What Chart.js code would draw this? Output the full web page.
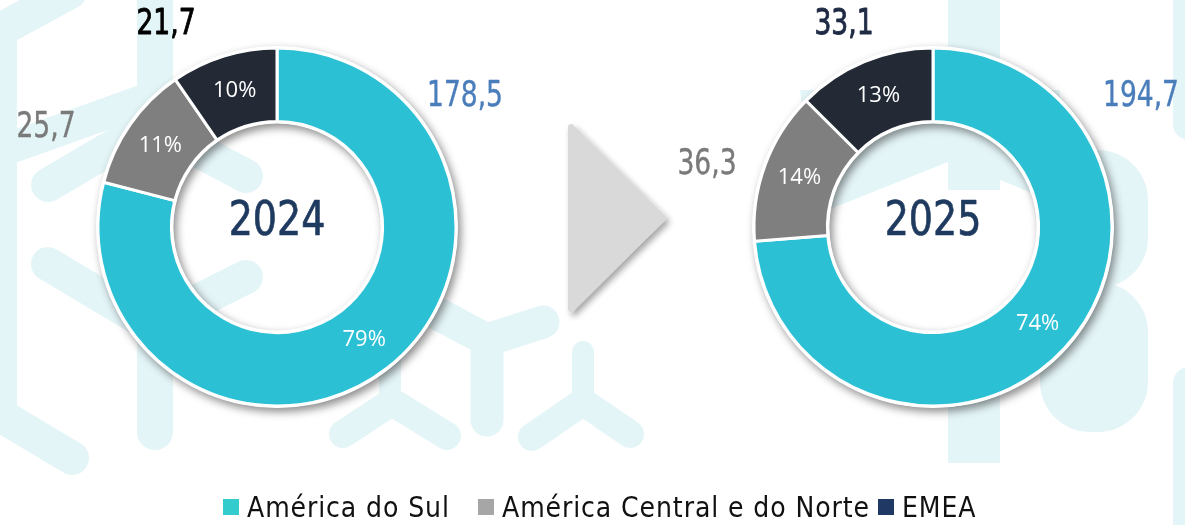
<!DOCTYPE html>
<html>
<head>
<meta charset="utf-8">
<script src="https://cdn.jsdelivr.net/npm/chart.js@4.4.0/dist/chart.umd.min.js"></script>
<style>
  html, body { margin: 0; padding: 0; background: #fff; }
  #stage { position: relative; width: 1185px; height: 525px; overflow: hidden; }
  #bg, #arrow, #c2024, #c2025 { position: absolute; left: 0; top: 0; }
  #legend {
    position: absolute; left: 0; top: 490px; width: 1185px; height: 34px;
    font-family: "DejaVu Sans Condensed", sans-serif;
    font-size: 28px; letter-spacing: 0.9px; color: #111; white-space: nowrap;
  }
  #legend .item { position: absolute; top: 0; height: 34px; display: flex; align-items: center; }
  #legend .sw { width: 16px; height: 16px; margin-right: 8px; display: inline-block; }
</style>
</head>
<body>
<div id="stage">
  <canvas id="bg" width="1185" height="525"></canvas>
  <svg id="arrow" width="1185" height="525">
    <defs>
      <filter id="sh" x="-30%" y="-30%" width="160%" height="160%">
        <feDropShadow dx="3" dy="4" stdDeviation="3" flood-color="#000" flood-opacity="0.35"/>
      </filter>
    </defs>
    <polygon points="571,127 663,218 571,309" fill="#D9D9D9" stroke="#D9D9D9"
             stroke-width="6" stroke-linejoin="round" filter="url(#sh)"/>
  </svg>
  <canvas id="c2024" width="1185" height="460"></canvas>
  <canvas id="c2025" width="1185" height="460"></canvas>
  <div id="legend"></div>
</div>

<script>
// data
const regions = ["América do Sul", "América Central e do Norte", "EMEA"];
const years = ["2024", "2025"];
const values2024 = [178.5, 25.7, 21.7];
const values2025 = [194.7, 36.3, 33.1];

// styles
const sliceColors = ["#2CC0D4", "#7F7F7F", "#232A36"];
const legendColors = ["#33CCCC", "#A6A6A6", "#1F3864"];
const legendLeft = [223, 478, 878];
const valueColors2024 = ["#4A7EBB", "#7A7A7A", "#000000"];
const valueColors2025 = ["#4A7EBB", "#7A7A7A", "#1F2A44"];
const valueStroke = [0.4, 0.4, 0.9]; // top labels are a bit heavier
// where the value labels sit, relative to the ring center (px)
const valueOffsets2024 = [[188, -130], [-231, -99], [-111, -202]];
const valueOffsets2025 = [[208, -130], [-226, -62], [-89, -202]];

const COND = '"DejaVu Sans Condensed", sans-serif';

function fmt(v) {
  return v.toFixed(1).replace(".", ",");
}

// squeeze text horizontally to get the narrow DIN look
function narrowText(ctx, text, x, y, font, sx, weight) {
  ctx.save();
  ctx.translate(x, y);
  ctx.scale(sx, 1);
  ctx.font = font;
  ctx.fillText(text, 0, 0);
  if (weight) {
    ctx.strokeStyle = ctx.fillStyle;
    ctx.lineWidth = weight;
    ctx.lineJoin = "round";
    ctx.strokeText(text, 0, 0);
  }
  ctx.restore();
}

// faint molecule watermark behind everything
function drawWatermark() {
  const ctx = document.getElementById("bg").getContext("2d");
  const pale = "#E4F5F8";
  ctx.strokeStyle = pale;
  ctx.fillStyle = pale;
  ctx.lineCap = "round";
  ctx.lineJoin = "round";

  const strokes = [
    [34, [[0, 30], [0, 415]]],
    [34, [[0, 30], [70, -8]]],
    [34, [[0, 415], [72, 458]]],
    [36, [[155, -20], [155, 432]]],
    [32, [[10, 148], [150, 98]]],
    [34, [[48, 185], [150, 125], [246, 176]]],
    [34, [[48, 264], [150, 325], [246, 277]]],
    [33, [[440, 315], [487, 340], [543, 322]]],
    [33, [[487, 340], [487, 420]]],
    [22, [[583, 352], [583, 397]]],
    [28, [[532, 437], [583, 402], [630, 434]]],
    [22, [[390, 340], [390, 398]]],
    [28, [[343, 434], [392, 402], [447, 436]]]
  ];
  strokes.forEach(([w, pts]) => {
    ctx.lineWidth = w;
    ctx.beginPath();
    pts.forEach(([x, y], i) => (i ? ctx.lineTo(x, y) : ctx.moveTo(x, y)));
    ctx.stroke();
  });

  ctx.fillRect(948, -10, 52, 200);
  ctx.fillRect(948, 330, 52, 133);
  ctx.beginPath();
  ctx.roundRect(1040, 150, 108, 138, 50);
  ctx.roundRect(1040, 282, 108, 150, 50);
  ctx.roundRect(1173, -20, 40, 160, 16);
  ctx.roundRect(1173, 367, 40, 180, 16);
  ctx.fill();
  // pale area seen inside the 2025 hole
  ctx.beginPath();
  ctx.moveTo(800, 90); ctx.lineTo(1060, 90); ctx.lineTo(1060, 205);
  ctx.lineTo(953, 160); ctx.lineTo(815, 215); ctx.closePath();
  ctx.fill();
}

const ringDecor = {
  id: "ringDecor",
  beforeDatasetsDraw(chart) {
    const arc = chart.getDatasetMeta(0).data[0];
    if (!arc) return;
    const { x, y, outerRadius, innerRadius } = arc.getProps(["x", "y", "outerRadius", "innerRadius"], true);
    const ctx = chart.ctx;
    ctx.save();
    ctx.beginPath();
    ctx.arc(x, y, outerRadius + 2, 0, Math.PI * 2);
    ctx.arc(x, y, innerRadius - 2, 0, Math.PI * 2, true);
    ctx.shadowColor = "rgba(0,0,0,0.45)";
    ctx.shadowBlur = 9;
    ctx.shadowOffsetX = 3;
    ctx.shadowOffsetY = 4;
    ctx.fillStyle = "#fff";
    ctx.fill();
    ctx.restore();
  },
  afterDatasetsDraw(chart, args, opts) {
    const meta = chart.getDatasetMeta(0);
    const data = chart.data.datasets[0].data;
    const total = data.reduce((a, b) => a + b, 0);
    const ctx = chart.ctx;
    const first = meta.data[0];
    const cx = first.x, cy = first.y;

    ctx.save();
    ctx.textAlign = "center";
    ctx.textBaseline = "middle";

    // percentages inside the ring
    ctx.fillStyle = "#fff";
    ctx.font = '22px "Open Sans", sans-serif';
    meta.data.forEach((el, i) => {
      const p = el.tooltipPosition();
      ctx.fillText(Math.round((data[i] / total) * 100) + "%", p.x, p.y);
    });

    // values around the ring
    data.forEach((v, i) => {
      ctx.fillStyle = opts.valueColors[i];
      const [dx, dy] = opts.valueOffsets[i];
      narrowText(ctx, fmt(v), cx + dx, cy + dy, "36px " + COND, 0.82, valueStroke[i]);
    });

    // year in the hole
    ctx.fillStyle = "#1F3A5F";
    narrowText(ctx, opts.year, cx, cy - 4, "48px " + COND, 0.88, 0.7);
    ctx.restore();
  }
};

function makeRing(canvasId, year, values, valueColors, valueOffsets, padLeft) {
  const ctx = document.getElementById(canvasId).getContext("2d");
  return new Chart(ctx, {
    type: "doughnut",
    data: {
      labels: regions,
      datasets: [{
        data: values,
        backgroundColor: sliceColors,
        borderColor: "#fff",
        borderWidth: 3
      }]
    },
    options: {
      responsive: false,
      animation: false,
      events: [],
      cutout: "59%",
      layout: {
        padding: { left: padLeft, right: 1185 - padLeft - 361, top: 46.5, bottom: 52.5 }
      },
      plugins: {
        legend: { display: false },
        tooltip: { enabled: false },
        ringDecor: { year, valueColors, valueOffsets }
      }
    },
    plugins: [ringDecor]
  });
}

function buildLegend() {
  const el = document.getElementById("legend");
  regions.forEach((name, i) => {
    const item = document.createElement("span");
    item.className = "item";
    item.style.left = legendLeft[i] + "px";
    const sw = document.createElement("span");
    sw.className = "sw";
    sw.style.background = legendColors[i];
    item.appendChild(sw);
    item.appendChild(document.createTextNode(name));
    el.appendChild(item);
  });
}

drawWatermark();
makeRing("c2024", years[0], values2024, valueColors2024, valueOffsets2024, 96.5);
makeRing("c2025", years[1], values2025, valueColors2025, valueOffsets2025, 752.5);
buildLegend();
</script>
</body>
</html>
